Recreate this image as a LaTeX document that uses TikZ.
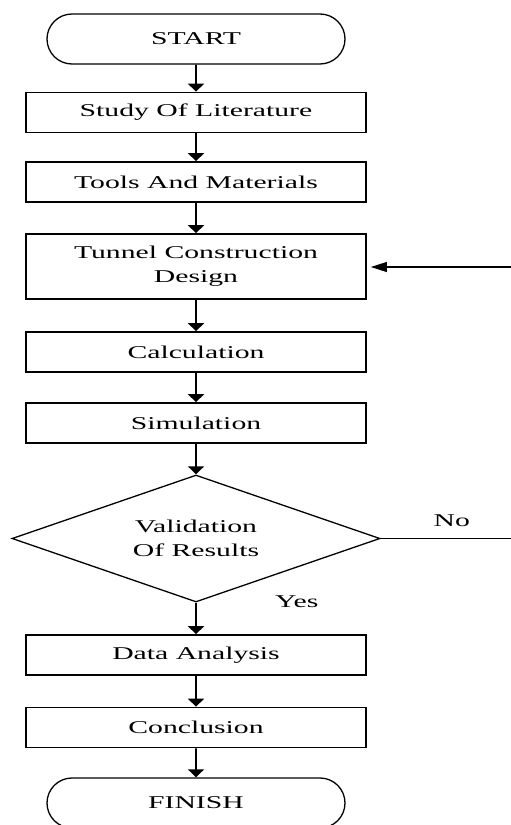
\documentclass[tikz,border=0pt]{standalone}
\usepackage{fontspec}
\setmainfont{Liberation Serif}[FakeStretch=1.65]
\usetikzlibrary{shapes.misc, shapes.geometric, arrows.meta}

\begin{document}
\begin{tikzpicture}[x=1pt, y=-1pt,
        terminal/.style={rounded rectangle, draw=black, line width=1.3pt, minimum width=298pt, minimum height=50pt, inner sep=0pt},
        process/.style={rectangle, draw=black, line width=1.7pt, minimum width=340pt, minimum height=40pt, inner sep=0pt, align=center},
        decision/.style={diamond, aspect=2.9, draw=black, line width=1.3pt, minimum width=368pt, minimum height=127pt, inner sep=0pt, align=center},
        flow/.style={line width=1.7pt, -{Triangle[width=16pt, length=8pt]}},
        back/.style={line width=1.1pt},
        font=\fontsize{18}{24}\selectfont]
        \useasboundingbox (0, 0) rectangle (511, 825);
        \clip (0, 0) rectangle (511, 825);

        \node[terminal] (start) at (196, 39) {START};
        \node[process] (study) at (196, 112.5) {Study Of Literature};
        \node[process] (tools) at (196, 182) {Tools And Materials};
        \node[process, minimum height=65pt] (design) at (196, 266.5) {Tunnel Construction\\Design};
        \node[process] (calc) at (196, 352) {Calculation};
        \node[process] (sim) at (196, 423) {Simulation};
        \node[decision] (valid) at (196, 538.5) {Validation\\Of Results};
        \node[process] (data) at (196, 655) {Data Analysis};
        \node[process] (concl) at (196, 727.5) {Conclusion};
        \node[terminal] (finish) at (196, 803) {FINISH};

        \coordinate (noend) at (511, 538.5);
        \coordinate (backin) at (511, 267);

        \draw[flow] (start) -- (study);
        \draw[flow] (study) -- (tools);
        \draw[flow] (tools) -- (design);
        \draw[flow] (design) -- (calc);
        \draw[flow] (calc) -- (sim);
        \draw[flow] (sim) -- (valid);
        \draw[flow] (valid) -- node[right, xshift=75pt, yshift=17pt] {Yes} (data);
        \draw[flow] (data) -- (concl);
        \draw[flow] (concl) -- (finish);

        \draw[back] (valid.east) -- node[above, xshift=6pt, yshift=8pt] {No} (noend);
        \draw[back, -{Triangle[width=10pt, length=16pt]}, shorten >=4pt] (backin) -- (design.east |- backin);
    \end{tikzpicture}
\end{document}
